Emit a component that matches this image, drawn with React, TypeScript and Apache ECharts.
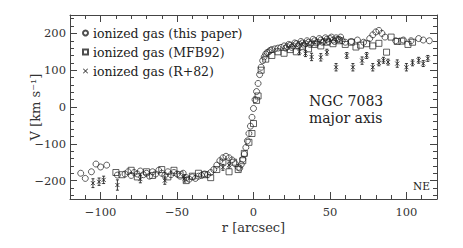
import React, { useEffect, useRef } from "react";
import * as echarts from "echarts";

// ionized gas (this paper): circles
const rThis = [-113, -110, -106, -103, -100, -96, -89,
  -84, -82, -80, -78, -76, -74, -72, -70, -68, -66, -64, -62, -60, -58, -56, -54, -52, -50,
  -48, -46, -44, -42, -40, -38, -36, -34, -32, -30, -28, -26, -24, -22, -20, -18, -16, -14,
  -12, -10, -9, -8, -7, -6, -5, -4, -3, -2, -1, 0, 1, 2, 3, 4, 5, 6, 7, 8, 9, 10, 11, 12,
  14, 16, 18, 20, 21, 22, 23, 24, 25, 26, 27, 28, 29, 30, 31, 32, 33, 34, 35, 36, 37, 38, 39,
  40, 41, 42, 43, 44, 45, 46, 47, 48, 49, 50, 51, 52, 53, 54, 55, 56, 57, 58, 60,
  64, 68, 72, 76, 78, 80, 82, 84, 86, 93, 98, 103, 108, 111, 115];
const vThis = [-180, -194, -176, -155, -163, -158, -185,
  -182, -176, -186, -178, -182, -174, -184, -180, -188, -176, -182, -172, -180, -186, -176, -184, -178, -182,
  -188, -180, -192, -196, -190, -194, -188, -186, -182, -184, -178, -170, -158, -146, -138, -134, -138, -144,
  -154, -164, -166, -156, -142, -128, -110, -92, -72, -52, -28, -4, 20, 42, 64, 88, 108, 126, 136, 144, 148, 150, 154, 156,
  158, 160, 162, 166, 160, 164, 170, 168, 162, 166, 174, 172, 166, 170, 178, 174, 168, 172, 180, 176, 170, 174, 184,
  180, 174, 176, 186, 182, 176, 178, 188, 184, 178, 186, 190, 182, 178, 188, 184, 184, 190, 180, 176,
  178, 182, 176, 186, 196, 204, 208, 200, 190, 180, 182, 180, 186, 182, 180];

// ionized gas (MFB92): squares
const rMfb = [-90, -86, -80, -76, -70, -66, -60, -56, -52, -48, -44, -40, -36, -32, -28, -24, -20, -16, -13,
  -10, -7, -6, -3, -1, 0, 2, 3, 5, 8, 12, 16, 20, 24, 28, 32, 36, 40, 44, 48, 52, 56, 60, 64, 67, 70, 74,
  78, 82, 87, 90, 94, 97, 101, 104];
const vMfb = [-178, -184, -172, -190, -176, -186, -170, -190, -172, -184, -200, -188, -180, -184, -192, -170, -150, -176, -150,
  -170, -146, -126, -96, -72, -45, 18, 30, 100, 130, 140, 150, 146, 156, 150, 164, 158, 170, 166, 176, 172, 180, 170, 176, 163, 168, 172,
  166, 173, 149, 190, 178, 179, 170, 176];

// ionized gas (R+82): crosses with error bars
const rR82 = [-105, -101, -98, -89, -74, -58, -45, -20, -16, 30, 34, 38, 44, 48, 54, 61, 65, 71, 74, 78, 82, 85, 88, 94, 100, 104, 108, 111, 114];
const vR82 = [-207, -203, -198, -212, -196, -200, -194, -164, -158, 150, 145, 136, 135, 149, 108, 140, 108, 126, 140, 108, 120, 127, 122, 118, 108, 120, 127, 118, 132];
const eR82 = [12, 10, 10, 14, 10, 10, 10, 8, 8, 8, 8, 10, 10, 8, 10, 8, 10, 10, 8, 10, 8, 8, 8, 10, 10, 8, 8, 8, 8];

// axis ticks
const majorX = [-100, -50, 0, 50, 100];
const minorX = [-120, -110, -100, -90, -80, -70, -60, -50, -40, -30, -20, -10, 0, 10, 20, 30, 40, 50, 60, 70, 80, 90, 100, 110, 120];
const majorY = [-200, -100, 0, 100, 200];
const minorY = [-240, -220, -200, -180, -160, -140, -120, -100, -80, -60, -40, -20, 0, 20, 40, 60, 80, 100, 120, 140, 160, 180, 200, 220, 240];

const FONT = "DejaVu Serif";
const INK = "#222";
const AXIS = "#444";
const CROSS = "path://M0,1L1,0L5,4L9,0L10,1L6,5L10,9L9,10L5,6L1,10L0,9L4,5Z";

const fmt = (v: number) => (v < 0 ? "\u2212" + Math.abs(v) : String(v));

export default function App() {
  const ref = useRef<HTMLDivElement>(null);
  useEffect(() => {
    if (!ref.current) return;
    const chart = echarts.init(ref.current, null, { renderer: "svg" });
    const mkX = (pos: string, ticks: number[], len: number, labels: boolean, line: boolean) => ({
      type: "value", position: pos, min: -120, max: 120, gridIndex: 0,
      axisLine: { show: line, onZero: false, lineStyle: { color: AXIS, width: 1 } },
      axisTick: { show: true, inside: true, length: len, customValues: ticks, lineStyle: { color: AXIS, width: 1 } },
      axisLabel: labels
        ? { show: true, customValues: majorX, formatter: fmt, fontFamily: FONT, fontSize: 11.5, color: "#333", margin: 7 }
        : { show: false },
      splitLine: { show: false },
      ...(labels ? { name: "r [arcsec]", nameLocation: "middle", nameGap: 22, nameMoveOverlap: false, nameTextStyle: { fontFamily: FONT, fontSize: 13, color: "#333" } } : {}),
    });
    const mkY = (pos: string, ticks: number[], len: number, labels: boolean, line: boolean) => ({
      type: "value", position: pos, min: -250, max: 250, gridIndex: 0,
      axisLine: { show: line, onZero: false, lineStyle: { color: AXIS, width: 1 } },
      axisTick: { show: true, inside: true, length: len, customValues: ticks, lineStyle: { color: AXIS, width: 1 } },
      axisLabel: labels
        ? { show: true, customValues: majorY, formatter: fmt, fontFamily: FONT, fontSize: 11.5, color: "#333", margin: 4 }
        : { show: false },
      splitLine: { show: false },
      ...(labels ? { name: "V [km s\u207B\u00B9]", nameLocation: "middle", nameGap: 28, nameMoveOverlap: false, nameRotate: 90, nameTextStyle: { fontFamily: FONT, fontSize: 13, color: "#333" } } : {}),
    });
    const sym = { color: "transparent", borderColor: INK, borderWidth: 0.9 };
    chart.setOption({
      animation: false,
      backgroundColor: "#fff",
      grid: { left: 70, right: 26, top: 15, bottom: 49 },
      xAxis: [
        mkX("bottom", majorX, 7, true, true),
        mkX("bottom", minorX, 4, false, false),
        mkX("top", majorX, 7, false, true),
        mkX("top", minorX, 4, false, false),
      ],
      yAxis: [
        mkY("left", majorY, 7, true, true),
        mkY("left", minorY, 4, false, false),
        mkY("right", majorY, 7, false, true),
        mkY("right", minorY, 4, false, false),
      ],
      legend: {
        orient: "vertical", left: 82, top: 26, itemWidth: 5, itemHeight: 5, itemGap: 5, padding: 0,
        textStyle: { fontFamily: FONT, fontSize: 12.5, color: INK, lineHeight: 14 },
        data: [
          { name: "ionized gas (this paper)", icon: "circle" },
          { name: "ionized gas (MFB92)", icon: "rect" },
          { name: "ionized gas (R+82)", icon: CROSS, itemStyle: { color: INK, borderWidth: 0 } },
        ],
      },
      graphic: [
        { type: "text", left: 309, top: 94, style: { text: "NGC 7083", font: `14px "${FONT}"`, fill: INK } },
        { type: "text", left: 309, top: 111, style: { text: "major axis", font: `14px "${FONT}"`, fill: INK } },
        { type: "text", left: 413, top: 180, style: { text: "NE", font: `10.5px "${FONT}"`, fill: INK } },
      ],
      series: [
        {
          name: "ionized gas (this paper)", type: "scatter", symbol: "circle", symbolSize: 6,
          itemStyle: sym, data: rThis.map((r, i) => [r, vThis[i]]),
        },
        {
          name: "ionized gas (MFB92)", type: "scatter", symbol: "rect", symbolSize: 6,
          itemStyle: sym, data: rMfb.map((r, i) => [r, vMfb[i]]),
        },
        {
          name: "ionized gas (R+82)", type: "custom",
          itemStyle: { color: INK },
          data: rR82.map((r, i) => [r, vR82[i], eR82[i]]),
          renderItem: (params: any, api: any) => {
            const x = api.value(0), v = api.value(1), e = api.value(2);
            const c = api.coord([x, v]);
            const t = api.coord([x, v + e]);
            const b = api.coord([x, v - e]);
            const st = { stroke: INK, lineWidth: 0.9 };
            return {
              type: "group",
              children: [
                { type: "line", shape: { x1: t[0], y1: t[1], x2: b[0], y2: b[1] }, style: st },
                { type: "line", shape: { x1: t[0] - 1.5, y1: t[1], x2: t[0] + 1.5, y2: t[1] }, style: st },
                { type: "line", shape: { x1: b[0] - 1.5, y1: b[1], x2: b[0] + 1.5, y2: b[1] }, style: st },
                { type: "line", shape: { x1: c[0] - 2, y1: c[1] - 2, x2: c[0] + 2, y2: c[1] + 2 }, style: st },
                { type: "line", shape: { x1: c[0] - 2, y1: c[1] + 2, x2: c[0] + 2, y2: c[1] - 2 }, style: st },
              ],
            };
          },
        },
      ],
    });
    return () => chart.dispose();
  }, []);
  return <div ref={ref} style={{ position: "fixed", left: 0, top: 0, width: 463, height: 248 }} />;
}
